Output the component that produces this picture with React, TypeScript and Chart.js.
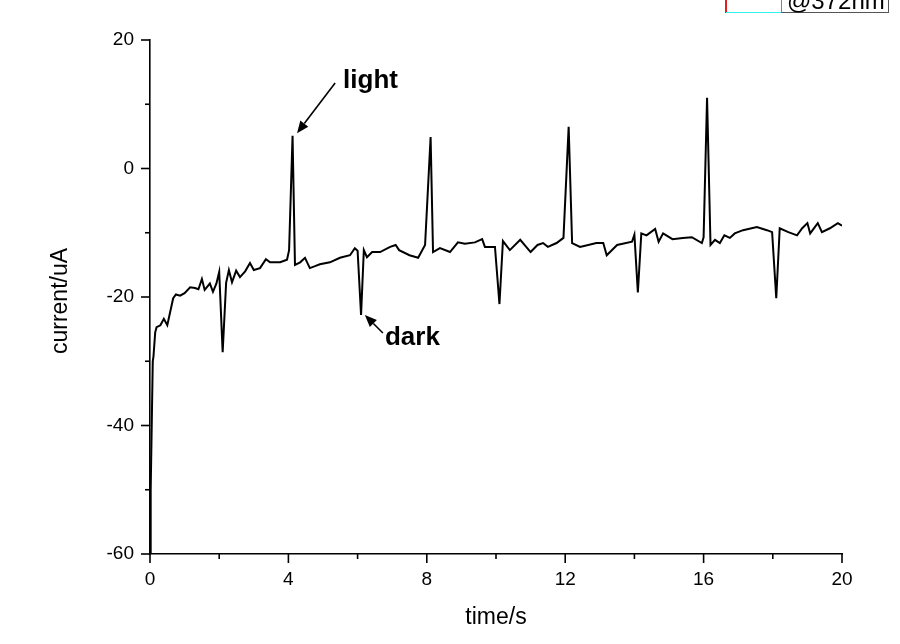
import React, { useEffect, useRef } from "react";
import { Chart, registerables } from "chart.js";

Chart.register(...registerables);

// time (s)
const TIMES: number[] = [
  0.0, 0.02, 0.05, 0.08, 0.1, 0.15, 0.19, 0.3, 0.4, 0.5, 0.67, 0.75, 0.87, 1.0, 1.16, 1.3, 1.4, 1.5, 1.58, 1.73,
  1.82, 1.92, 2.0, 2.1, 2.2, 2.28, 2.37, 2.49, 2.6, 2.75, 2.89, 3.0, 3.18, 3.35, 3.47, 3.76, 3.96, 4.02, 4.12, 4.19,
  4.34, 4.48, 4.62, 4.77, 4.91, 5.2, 5.49, 5.78, 5.92, 6.0, 6.1, 6.18, 6.27, 6.42, 6.65, 6.94, 7.1, 7.2, 7.5, 7.75,
  7.95, 8.11, 8.18, 8.38, 8.67, 8.9, 9.1, 9.39, 9.6, 9.68, 9.97, 10.1, 10.2, 10.4, 10.7, 11.0, 11.2, 11.36, 11.5, 11.75,
  11.95, 12.1, 12.2, 12.43, 12.9, 13.1, 13.2, 13.5, 13.93, 14.0, 14.1, 14.2, 14.35, 14.6, 14.7, 14.83, 15.1, 15.4, 15.66, 15.95,
  16.0, 16.1, 16.2, 16.33, 16.47, 16.6, 16.76, 16.9, 17.14, 17.54, 17.83, 17.98, 18.1, 18.2, 18.45, 18.7, 18.85, 19.0, 19.08, 19.3,
  19.42, 19.65, 19.88, 20.0,
];

// current (uA)
const CURRENTS: number[] = [
  -60, -50, -40, -30, -29.3, -25.5, -24.7, -24.4, -23.4, -24.4, -20.2, -19.6, -19.8, -19.4, -18.5, -18.6, -18.8, -17.2, -18.9, -17.9,
  -19.2, -17.9, -16.1, -28.6, -17.8, -15.8, -17.7, -15.9, -16.9, -16.0, -14.7, -15.8, -15.5, -14.1, -14.6, -14.6, -14.2, -12.7, 5.1, -15.0,
  -14.6, -13.9, -15.5, -15.2, -14.9, -14.6, -13.9, -13.5, -12.4, -12.8, -22.8, -12.7, -13.8, -13.0, -13.0, -12.2, -11.9, -12.7, -13.5, -13.9,
  -11.9, 4.9, -13.0, -12.4, -13.0, -11.5, -11.7, -11.5, -11.0, -12.2, -12.2, -21.1, -11.3, -12.7, -11.1, -13.0, -11.9, -11.6, -12.2, -11.6,
  -10.8, 6.5, -11.6, -12.2, -11.6, -11.6, -13.5, -11.9, -11.4, -10.3, -19.3, -10.1, -10.4, -9.4, -11.4, -10.1, -11.0, -10.8, -10.7, -11.6,
  -10.7, 11.0, -11.9, -11.1, -11.6, -10.4, -10.8, -10.1, -9.6, -9.1, -9.6, -9.9, -20.2, -9.3, -9.9, -10.4, -9.3, -8.5, -10.1, -8.5,
  -9.9, -9.3, -8.5, -8.9,
];

const X_TICKS: number[] = [0, 2, 4, 6, 8, 10, 12, 14, 16, 18, 20];
const Y_TICKS: number[] = [20, 10, 0, -10, -20, -30, -40, -50, -60];
const X_TITLE = "time/s";
const Y_TITLE = "current/uA";

// annotations: label text, label position, arrow tail, arrow head (data units)
const ANNOT_TEXT: string[] = ["light", "dark"];
const ANNOT_LABEL_T: number[] = [5.58, 6.79];
const ANNOT_LABEL_V: number[] = [12.5, -27.5];
const ANNOT_TAIL_T: number[] = [5.35, 6.73];
const ANNOT_TAIL_V: number[] = [13.3, -25.6];
const ANNOT_HEAD_T: number[] = [4.25, 6.21];
const ANNOT_HEAD_V: number[] = [5.5, -22.8];

const LEGEND_TEXT = "@372nm";

const FONT = '"Liberation Sans", Arial, sans-serif';

const decorPlugin = {
  id: "decor",
  afterDraw(chart: any) {
    const ctx = chart.ctx as CanvasRenderingContext2D;
    const xs = chart.scales.x;
    const ys = chart.scales.y;
    const area = chart.chartArea;
    ctx.save();
    ctx.strokeStyle = "#000";
    ctx.fillStyle = "#000";
    ctx.lineWidth = 1.6;
    // ticks
    X_TICKS.forEach((v) => {
      const px = xs.getPixelForValue(v);
      const len = v % 4 === 0 ? 9 : 5;
      ctx.beginPath();
      ctx.moveTo(px, area.bottom);
      ctx.lineTo(px, area.bottom + len);
      ctx.stroke();
    });
    Y_TICKS.forEach((v) => {
      const py = ys.getPixelForValue(v);
      const len = v % 20 === 0 ? 9 : 5;
      ctx.beginPath();
      ctx.moveTo(area.left, py);
      ctx.lineTo(area.left - len, py);
      ctx.stroke();
    });
    // axis titles
    ctx.font = `23px ${FONT}`;
    ctx.textAlign = "center";
    ctx.textBaseline = "middle";
    ctx.fillText(X_TITLE, (area.left + area.right) / 2, 618);
    ctx.save();
    ctx.translate(61, (area.top + area.bottom) / 2 + 4);
    ctx.rotate(-Math.PI / 2);
    ctx.fillText(Y_TITLE, 0, 0);
    ctx.restore();
    // annotations
    ctx.font = `bold 26px ${FONT}`;
    ctx.textAlign = "left";
    ctx.textBaseline = "alphabetic";
    ctx.lineWidth = 1.6;
    ANNOT_TEXT.forEach((txt, i) => {
      ctx.fillText(txt, xs.getPixelForValue(ANNOT_LABEL_T[i]), ys.getPixelForValue(ANNOT_LABEL_V[i]));
      const x1 = xs.getPixelForValue(ANNOT_TAIL_T[i]);
      const y1 = ys.getPixelForValue(ANNOT_TAIL_V[i]);
      const x2 = xs.getPixelForValue(ANNOT_HEAD_T[i]);
      const y2 = ys.getPixelForValue(ANNOT_HEAD_V[i]);
      const ang = Math.atan2(y2 - y1, x2 - x1);
      const hl = 12;
      const hw = 5;
      const bx = x2 - hl * Math.cos(ang);
      const by = y2 - hl * Math.sin(ang);
      ctx.beginPath();
      ctx.moveTo(x1, y1);
      ctx.lineTo(bx, by);
      ctx.stroke();
      ctx.beginPath();
      ctx.moveTo(x2, y2);
      ctx.lineTo(bx + hw * Math.sin(ang), by - hw * Math.cos(ang));
      ctx.lineTo(bx - hw * Math.sin(ang), by + hw * Math.cos(ang));
      ctx.closePath();
      ctx.fill();
    });
    ctx.restore();
  },
};

export default function App() {
  const canvasRef = useRef<HTMLCanvasElement | null>(null);

  useEffect(() => {
    if (!canvasRef.current) return;
    const chart = new Chart(canvasRef.current, {
      type: "line",
      data: {
        datasets: [
          {
            data: TIMES.map((t, i) => ({ x: t, y: CURRENTS[i] })),
            borderColor: "#000",
            borderWidth: 2,
            pointRadius: 0,
            tension: 0,
            fill: false,
          },
        ],
      },
      options: {
        responsive: false,
        animation: false,
        layout: { padding: { top: 40, right: 58, left: 0, bottom: 0 } },
        plugins: { legend: { display: false }, tooltip: { enabled: false } },
        scales: {
          x: {
            type: "linear",
            min: 0,
            max: 20,
            afterFit: (s: any) => {
              s.height = 90;
            },
            afterBuildTicks: (s: any) => {
              s.ticks = X_TICKS.map((v) => ({ value: v }));
            },
            ticks: {
              autoSkip: false,
              maxRotation: 0,
              padding: 14,
              color: "#000",
              font: { family: FONT, size: 19 },
              callback: (v: any) => (Number(v) % 4 === 0 ? String(v) : ""),
            },
            grid: { display: true, drawOnChartArea: false, drawTicks: false },
            border: { display: true, color: "#000", width: 1.6 },
          },
          y: {
            type: "linear",
            min: -60,
            max: 20,
            afterFit: (s: any) => {
              s.width = 150;
            },
            afterBuildTicks: (s: any) => {
              s.ticks = Y_TICKS.map((v) => ({ value: v }));
            },
            ticks: {
              autoSkip: false,
              padding: 16,
              color: "#000",
              font: { family: FONT, size: 19 },
              callback: (v: any) => (Number(v) % 20 === 0 ? String(v) : ""),
            },
            grid: { display: true, drawOnChartArea: false, drawTicks: false },
            border: { display: true, color: "#000", width: 1.6 },
          },
        },
      },
      plugins: [decorPlugin],
    });
    return () => chart.destroy();
  }, []);

  return (
    <div
      style={{
        position: "absolute",
        left: 0,
        top: 0,
        width: 900,
        height: 644,
        overflow: "hidden",
        background: "#fff",
      }}
    >
      <canvas ref={canvasRef} width={900} height={644} style={{ display: "block" }} />
      {/* clipped legend fragment at the top right */}
      <div style={{ position: "absolute", left: 725, top: 0, width: 1.5, height: 13, background: "#e02020" }} />
      <div style={{ position: "absolute", left: 726, top: 11.5, width: 55, height: 1.5, background: "#30f0f0" }} />
      <div
        style={{
          position: "absolute",
          left: 781,
          top: -30,
          width: 108,
          height: 43,
          boxSizing: "border-box",
          background: "#fff",
          borderTop: "1px solid #555",
          borderRight: "1.5px solid #555",
          borderBottom: "1.5px solid #555",
          borderLeft: "1px solid #e06060",
        }}
      />
      <div
        style={{
          position: "absolute",
          left: 787,
          top: -11,
          fontFamily: FONT,
          fontSize: 24,
          lineHeight: "24px",
          color: "#000",
          whiteSpace: "nowrap",
        }}
      >
        {LEGEND_TEXT}
      </div>
    </div>
  );
}
